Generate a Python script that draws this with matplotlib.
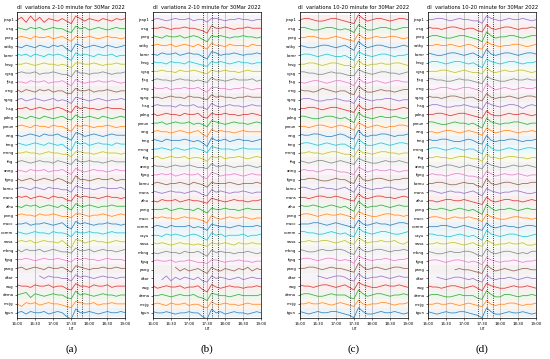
import numpy as np
import matplotlib.pyplot as plt

# sample times, minutes after 16:00 UT
minutes = [0, 7.5, 15, 22.5, 30, 37.5, 45, 52.5, 60, 67.5, 75, 82.5, 90,
           97.5, 105, 112.5, 120, 127.5, 135, 142.5, 150, 157.5, 165, 172.5, 180]

stations_a = ['jeap1', 'crsg', 'pnrg', 'satky', 'bsmr', 'hrsg', 'cgsg', 'fjsg', 'crng',
              'sgng', 'lnsg', 'pdng', 'pmun', 'wng', 'trng', 'mnng', 'fhg', 'anng',
              'fgng', 'bsmu', 'mans', 'zihu', 'pnng', 'macc', 'comm', 'swsa', 'mbng',
              'fgsg', 'pang', 'dkar', 'wsg', 'dema', 'mcjg', 'tgun']
stations_b = stations_a[:25] + ['cayu'] + stations_a[25:]

# event markers (minutes after 16:00)
event_min = [83, 99, 108]

N = None
# dI 2-10 minute, panel (a)
di_a = [
    [0, 2, -2, 3, -1, 2, -2, 1, 0, -1, 1, -1, -3, 3, 1, -1, 1, 0, -1, 1, 0, -1, 1, 0, 1],
    [1, 0, -1, 1, 0, 1, -1, 0, 1, 0, 0, -2, -3, 2, 0, 1, -1, 0, 1, 0, -1, 0, 1, 0, 0],
    [0, 1, 0, -1, 1, 0, 0, 1, -1, 0, 1, -1, -3, 1, 0, 0, 1, 0, -1, 0, 1, 0, 0, -1, 0],
    [0, -1, 1, 0, -1, 1, 0, -1, 1, 0, 1, -2, -4, 2, 1, -1, 0, 1, 0, -1, 1, 0, -1, 0, 1],
    [1, 0, 1, -1, 1, 0, -1, 1, 0, 1, 0, -2, -4, 2, 0, 1, 0, -1, 1, 0, 0, 1, -1, 0, 0],
    [0, 0, 1, 0, -1, 0, 1, 0, 0, -1, 0, -1, -3, 1, 1, 0, 0, 1, 0, -1, 0, 0, 1, 0, 0],
    [0, 1, 0, 0, 1, -1, 0, 0, 1, 0, -1, -1, -3, 2, 0, 0, -1, 0, 0, 1, 0, -1, 0, 0, 1],
    [0, 0, -1, 1, 0, 0, 1, -1, 0, 0, 1, -1, -3, 2, 0, -1, 0, 0, 1, 0, 0, 1, 0, -1, 0],
    [1, -1, 1, 0, -1, 1, 0, 1, -1, 0, 0, -2, -2, 2, 0, 0, 1, -1, 0, 0, 1, 0, -1, 0, 0],
    [0, 1, -1, 0, 1, 0, -1, 0, 1, -1, 0, -1, -3, 2, 1, 0, -1, 0, 1, 0, -1, 0, 0, 1, 0],
    [0, 0, 1, -1, 0, 1, 0, -1, 0, 1, 0, -2, -3, 2, 0, 1, 0, 0, -1, 0, 1, 0, 0, 0, -1],
    [1, 0, -1, 1, 0, -1, 1, 0, -1, 0, 1, -1, -2, 2, 0, 0, 1, 0, -1, 1, 0, -1, 0, 1, 0],
    [0, 1, 0, -1, 1, 0, 0, -1, 1, 0, 0, -2, -4, 1, 0, 1, 0, -1, 0, 0, 1, 0, -1, 0, 0],
    [0, -1, 0, 1, 0, -1, 1, 0, 0, 1, -1, -2, -4, 2, 1, -1, 0, 1, 0, -1, 0, 1, 0, 0, 0],
    [1, 0, -1, 0, 1, 0, -1, 1, 0, -1, 0, -3, -5, 2, 0, 1, -1, 0, 1, 0, 0, -1, 1, 0, 0],
    [0, 0, 1, 0, 0, -1, 0, 1, 0, 0, -1, -1, -3, 1, 1, 0, 0, -1, 0, 1, 0, 0, 0, -1, 0],
    [0, 1, 0, -1, 0, 1, 0, 0, -1, 1, 0, -1, -2, 2, 0, 0, 1, 0, 0, -1, 0, 1, 0, 0, 0],
    [0, 0, -1, 1, 0, 0, 1, -1, 0, 0, 1, -1, -3, 2, 0, -1, 0, 1, 0, 0, -1, 0, 1, 0, 0],
    [1, -1, 0, 1, -1, 0, 1, 0, -1, 1, 0, -2, -3, 3, 0, 0, -1, 0, 1, 0, 0, 1, -1, 0, 0],
    [0, 1, 0, -1, 1, 0, -1, 1, 0, 0, -1, -1, -3, 2, 1, 0, 0, -1, 0, 1, 0, 0, 0, 1, -1],
    [1, 0, 1, -1, 0, 1, 0, -1, 1, 0, 0, -2, -3, 2, 0, 1, 0, 0, -1, 0, 1, 0, 0, -1, 0],
    [0, -1, 1, 0, 1, -1, 0, 1, 0, -1, 1, -1, -3, 2, 0, 0, 1, 0, -1, 0, 0, 1, 0, 0, 0],
    [0, 1, 0, 0, -1, 1, 0, 0, 1, 0, -1, -1, -2, 1, 1, 0, -1, 0, 0, 1, 0, -1, 0, 1, 0],
    [0, 0, 1, -1, 0, 0, 1, 0, -1, 0, 1, -2, -4, 2, 0, 1, 0, -1, 0, 0, 1, 0, 0, -1, 0],
    [1, 0, -1, 0, 1, 0, 0, -1, 1, 0, 0, -1, -3, 1, 0, 0, 1, 0, 0, -1, 0, 1, 0, 0, 0],
    [0, 1, 0, 1, -1, 0, 1, 0, 0, -1, 1, -2, -5, 2, 1, -1, 0, 1, 0, 0, -1, 0, 1, 0, 0],
    [1, -1, 1, 0, 0, 1, -1, 0, 1, 0, -1, -1, -2, 2, 0, 0, 1, -1, 0, 1, 0, 0, -1, 0, 1],
    [0, 0, 1, 0, -1, 0, 1, 0, 0, 1, 0, -1, -2, 1, 0, 1, 0, 0, -1, 0, 1, 0, 0, 0, -1],
    [0, 1, -1, 0, 1, 0, -1, 1, 0, 0, 1, -1, -3, 2, 1, 0, -1, 0, 0, 1, 0, 0, 1, 0, 0],
    [N, N, N, N, N, 1, -1, 1, 0, 0, -1, -1, -3, 2, 0, 1, 0, -1, 0, 1, 0, 0, -1, 0, 0],
    [1, 0, 0, -1, 1, 0, 0, 1, -1, 0, 0, -2, -3, 2, 0, 0, -1, 1, 0, 0, 1, -1, 0, 0, 0],
    [0, 1, 2, -2, 1, 0, -1, 0, 1, 0, 0, -2, -3, 3, 0, 1, 0, -1, 0, 1, 0, 0, -1, 0, 0],
    [0, -2, 1, 0, 1, -1, 0, 1, 0, 0, -1, -2, -3, 2, 1, 0, 0, 1, -1, 0, 0, 1, 0, 0, 0],
    [0, 1, -1, 1, 0, 0, 1, -1, 0, 1, 0, -3, -5, 3, 0, 0, 1, 0, -1, 0, 1, 0, 0, 1, 0],
]

# dI 2-10 minute, panel (b)
di_b = [
    [0, 1, 0, -1, 0, 1, 0, 0, 1, -1, 0, 0, -2, 1, 1, 0, -1, 0, 0, 1, 0, 0, -1, 0, 0],
    [0, 0, 1, 0, -1, 0, 0, 1, 0, 0, -1, -2, -4, 2, 0, 0, 1, 0, -1, 0, 0, 1, 0, 0, 0],
    [1, 0, -1, 1, 0, 0, 1, -1, 0, 1, 0, -2, -4, 1, 0, 1, 0, -1, 0, 0, 1, 0, 0, -1, 0],
    [0, 1, 0, 0, 1, -1, 0, 1, 0, -1, 1, -1, -3, 2, 0, 0, -1, 1, 0, 0, 0, -1, 1, 0, 0],
    [0, -1, 1, 0, 0, 1, -1, 0, 1, 0, 0, -2, -4, 2, 1, -1, 0, 0, 1, 0, -1, 0, 0, 1, 0],
    [1, 0, 0, -1, 1, 0, 0, -1, 1, 0, -1, -2, -3, 1, 0, 1, 0, -1, 0, 1, 0, 0, -1, 0, 0],
    [0, 0, 1, 0, 0, -1, 1, 0, 0, 1, 0, -1, -2, 1, 0, 0, 1, 0, 0, -1, 0, 1, 0, 0, 0],
    [0, 1, 0, 0, -1, 0, 1, 0, 0, -1, 0, -1, -2, 2, 0, 0, -1, 0, 1, 0, 0, 0, 1, -1, 0],
    [1, 0, 0, 1, -1, 0, 0, 1, 0, 0, 1, -1, -3, 1, 1, 0, 0, -1, 0, 0, 1, 0, -1, 0, 0],
    [0, 0, -1, 0, 1, 0, 0, -1, 1, 0, 0, -1, -2, 2, 0, 1, 0, 0, -1, 0, 0, 1, 0, 0, 0],
    [0, 1, 0, 0, 0, -1, 1, 0, 0, 1, -1, -1, -3, 2, 0, -1, 0, 1, 0, 0, -1, 0, 1, 0, 0],
    [1, -1, 0, 1, 0, 0, -1, 1, 0, 0, 1, -2, -3, 1, 0, 0, 1, 0, 0, -1, 0, 0, 1, 0, -1],
    [0, 0, 1, -1, 0, 1, 0, 0, 1, -1, 0, -1, -3, 2, 1, 0, -1, 0, 1, 0, 0, -1, 0, 1, 0],
    [0, 1, 0, 0, -1, 0, 1, 0, -1, 0, 1, -2, -4, 2, 0, 1, 0, 0, -1, 0, 1, 0, 0, 0, 0],
    [1, 0, -1, 1, 0, 0, 0, 1, 0, -1, 0, -2, -5, 2, 0, 0, 1, -1, 0, 1, 0, 0, -1, 0, 1],
    [0, 0, 1, 0, -1, 1, 0, -1, 0, 1, 0, -1, -3, 2, 1, 0, 0, 0, -1, 0, 1, 0, 0, 0, 0],
    [0, 1, -1, 0, 1, 0, 0, 1, -1, 0, 0, -1, -3, 1, 0, 1, -1, 0, 0, 1, 0, -1, 0, 1, 0],
    [1, 0, 0, -1, 0, 1, 0, 0, 1, 0, -1, -1, -2, 2, 0, 0, 1, 0, -1, 0, 0, 1, 0, -1, 0],
    [0, 0, 1, 0, 1, -1, 0, 1, 0, 0, 1, -2, -3, 2, 1, -1, 0, 0, 1, 0, -1, 0, 1, 0, 0],
    [0, 1, 0, -1, 0, 0, 1, 0, -1, 1, 0, -1, -3, 1, 0, 0, 0, 1, 0, -1, 0, 0, 0, 1, 0],
    [1, 0, -1, 0, 1, 0, 0, -1, 0, 1, 0, -2, -3, 2, 0, 1, 0, -1, 0, 0, 1, 0, -1, 0, 0],
    [0, -1, 1, 0, 0, 1, -1, 0, 1, 0, 0, -1, -2, 2, 1, 0, -1, 0, 1, 0, 0, -1, 0, 0, 1],
    [0, 0, 0, 1, -1, 0, 1, 0, 0, -1, 1, -1, -3, 1, 0, 0, 1, 0, 0, -1, 0, 1, 0, 0, 0],
    [1, 0, 1, 0, 0, -1, 0, 1, 0, 0, -1, -2, -4, 2, 0, -1, 0, 1, 0, 0, 1, 0, -1, 0, 0],
    [0, 1, 0, -1, 1, 0, 0, 0, 1, -1, 0, -1, -3, 2, 1, 0, 0, -1, 0, 1, 0, 0, 0, 1, 0],
    [0, 0, -1, 1, 0, 1, 0, -1, 0, 1, 0, -2, -4, 2, 0, 1, -1, 0, 0, 0, 1, -1, 0, 0, 1],
    [1, 0, 1, 0, -1, 0, 1, 0, 0, -1, 0, -1, -2, 1, 0, 0, 1, 0, -1, 1, 0, 0, 1, 0, 0],
    [0, -1, 0, 1, 0, 0, -1, 1, 0, 0, 1, -1, -3, 2, 0, 1, 0, 0, -1, 0, 0, 1, 0, -1, 0],
    [0, 1, 0, 0, 1, -1, 0, 0, 1, 0, -1, -1, -2, 1, 1, 0, -1, 0, 0, 1, 0, 0, -1, 0, 0],
    [N, N, N, N, N, 2, -1, 1, -1, 0, 1, -1, -3, 2, 0, -1, 1, 0, -1, 1, 0, 2, -1, 1, 0],
    [N, N, -1, 2, -2, 1, -1, 1, 0, -1, 1, -2, -3, 2, 0, 1, 0, -1, 0, 1, -1, 0, 1, 0, 0],
    [1, -1, 0, 1, 0, 0, 1, -1, 0, 0, 1, -2, -4, 2, 0, -1, 0, 1, 0, 0, -1, 0, 0, 1, 0],
    [0, 0, 1, 0, -1, 0, 1, 0, 0, 1, -1, -2, -4, 2, 1, 0, 0, -1, 0, 1, 0, 0, 0, 0, 1],
    [0, 1, 0, -1, 1, 0, 0, 1, -1, 0, 0, -2, -3, 2, 0, 0, 1, 0, 0, -1, 0, 1, 0, 0, 0],
    [1, 0, 0, 1, 0, -1, 0, 0, 1, 0, 0, -3, -5, 3, 0, 1, -1, 0, 1, 0, 0, -1, 0, 1, 0],
]

# dI 10-20 minute, panel (c)
di_c = [
    [0, 1, 1, 0, -1, -1, 0, 1, 1, 0, -1, -2, -3, 4, 1, -1, 0, 1, 1, 0, -1, 0, 1, 1, 0],
    [1, 1, 0, -1, -1, 0, 1, 1, 0, -1, 0, -1, -3, 3, 1, -1, -1, 0, 1, 1, 0, -1, 0, 1, 1],
    [0, 0, 1, 1, 0, -1, -1, 0, 1, 0, -1, -2, -3, 3, 0, -1, 0, 1, 0, 0, 1, 1, 0, -1, 0],
    [1, 0, -1, -1, 0, 1, 1, 0, -1, 0, 1, -1, -3, 4, 1, -1, 0, 1, 1, 0, -1, -1, 0, 1, 0],
    [0, 1, 1, 0, -1, 0, 1, 0, -1, -1, 0, -2, -4, 3, 1, 0, -1, 0, 1, 1, 0, -1, 0, 0, 1],
    [0, 0, 1, 1, 0, -1, 0, 1, 1, 0, -1, -1, -3, 3, 0, -1, 0, 0, 1, 0, 0, 1, 1, 0, -1],
    [1, 1, 0, 0, -1, -1, 0, 1, 0, 0, -1, -2, -2, 3, 1, 0, -1, 0, 1, 1, 0, 0, -1, 0, 1],
    [0, -1, 0, 1, 1, 0, -1, 0, 1, 1, 0, -1, -3, 3, 0, -1, 0, 1, 0, -1, 0, 1, 1, 0, 0],
    [1, 0, 0, -1, 0, 2, 1, 0, -1, 0, 0, -2, -3, 4, 1, -1, -1, 0, 1, 0, 0, -1, 0, 1, 1],
    [0, 1, 1, 0, -1, -1, 0, 0, 1, 0, -1, -1, -3, 3, 1, 0, -1, 0, 0, 1, 1, 0, -1, 0, 0],
    [0, 0, 1, 1, 0, -1, 0, 1, 1, 0, -1, -2, -3, 3, 0, -1, 0, 1, 1, 0, -1, -1, 0, 1, 0],
    [1, 1, 0, -1, -1, 0, 1, 1, 0, -1, 0, -2, -4, 4, 1, 0, -1, 0, 1, 0, 0, 1, 0, -1, 0],
    [0, 0, -1, 0, 1, 1, 0, -1, 0, 1, 0, -1, -3, 3, 1, -1, 0, 1, 0, -1, 0, 0, 1, 1, 0],
    [1, 0, 0, 1, 1, 0, -1, -1, 0, 1, 0, -2, -3, 4, 0, -1, 0, 0, 1, 1, 0, -1, 0, 0, 1],
    [0, 1, 1, 0, -1, 0, 1, 0, -1, 0, 0, -2, -4, 4, 1, -1, -1, 0, 1, 0, -1, 0, 1, 1, 0],
    [0, 0, 1, 0, 0, -1, 0, 1, 1, 0, -1, -1, -3, 3, 0, 0, -1, 0, 1, 1, 0, 0, -1, 0, 0],
    [1, 0, -1, 0, 1, 1, 0, -1, 0, 1, 0, -1, -2, 3, 1, 0, -1, -1, 0, 1, 0, 0, 1, 0, -1],
    [0, 1, 0, 0, -1, 0, 1, 1, 0, -1, -1, -2, -3, 3, 1, -1, 0, 1, 0, 0, 1, 0, -1, 0, 0],
    [0, 0, 1, 1, 0, -1, -1, 0, 1, 0, 0, -2, -3, 4, 0, -1, 0, 1, 1, 0, -1, 0, 0, 1, 1],
    [1, 1, 0, -1, 0, 1, 0, 0, -1, 0, 1, -1, -3, 3, 1, 0, -1, 0, 0, 1, 1, 0, -1, -1, 0],
    [0, 0, -1, 0, 1, 1, 0, 0, 1, 0, -1, -2, -3, 3, 0, -1, 0, 1, 1, 0, 0, -1, 0, 1, 0],
    [1, 0, 0, 1, 0, -1, 0, 1, 0, -1, 0, -2, -4, 4, 1, -1, 0, 0, 1, 0, -1, 0, 1, 0, 0],
    [0, 1, 1, 0, -1, 0, 1, 0, 0, 1, 0, -1, -3, 3, 1, 0, -1, -1, 0, 1, 1, 0, 0, -1, 0],
    [0, 0, 0, 1, 1, 0, -1, 0, 1, 0, -1, -2, -3, 3, 0, -1, 0, 1, 0, 0, -1, 0, 1, 1, 0],
    [1, 1, 0, 0, -1, -1, 0, 1, 0, -1, 0, -2, -3, 4, 1, 0, -1, 0, 1, 1, 0, -1, -1, 0, 1],
    [0, 0, 1, 0, 0, 1, 1, 0, -1, 0, 1, -1, -2, 3, 1, -1, 0, 0, 1, 0, 0, 1, -1, -2, 0],
    [1, 0, -1, -1, 0, 1, 0, 0, 1, 1, 0, -2, -3, 3, 0, -1, 0, 1, 1, 0, -1, 0, 0, 1, 0],
    [0, 1, 1, 0, -1, 0, 1, 1, 0, -1, 0, -1, -3, 3, 1, 0, -1, 0, 0, 1, 0, -1, 0, 0, 1],
    [0, 0, 1, 1, 0, -1, 0, 1, 0, 0, -1, -2, -3, 4, 1, -1, 0, 1, 0, -1, 0, 1, 1, 0, 0],
    [N, N, N, N, 1, 0, -1, 0, 1, 1, 0, -2, -3, 3, 0, -1, 0, 0, 1, 0, -1, 0, 1, 0, 0],
    [1, 0, 0, -1, 0, 1, 1, 0, -1, 0, 1, -1, -3, 3, 1, 0, -1, -1, 0, 1, 0, 0, 1, 0, -1],
    [0, 1, 1, 0, -1, -1, 0, 1, 0, 0, 0, -2, -3, 4, 1, -1, 0, 1, 1, 0, -1, 0, 0, 1, 0],
    [0, 0, 1, 0, 0, 1, 0, -1, 0, 1, 0, -1, -2, 3, 0, -1, 0, 0, 1, 1, 0, -1, 0, 0, 1],
    [1, 0, -1, 0, 1, 0, 0, 1, 1, 0, -1, -2, -4, 4, 1, -1, -1, 0, 1, 0, 0, 1, 0, -1, 0],
]

# dI 10-20 minute, panel (d)
di_d = [
    [0, 0, 1, 1, 0, -1, 0, 1, 0, 0, -1, -1, -3, 3, 1, 0, -1, 0, 1, 0, 0, 1, 0, -1, 0],
    [1, 0, 0, -1, 0, 1, 1, 0, -1, 0, 0, -2, -3, 3, 0, -1, 0, 1, 1, 0, -1, 0, 0, 1, 0],
    [0, 1, 1, 0, -1, -1, 0, 1, 1, 0, -1, -2, -4, 4, 1, -1, 0, 0, 1, 1, 0, -1, 0, 1, 1],
    [0, 0, 1, 0, 0, 1, 0, -1, 0, 1, 0, -2, -3, 3, 1, 0, -1, 0, 0, 1, 1, 0, -1, 0, 1],
    [1, 0, -1, -1, 0, 1, 1, 0, -1, 0, 1, -1, -3, 4, 0, -1, 0, 1, 1, 0, -1, 0, 1, 1, 0],
    [0, 1, 1, 0, -1, 0, 1, 1, 0, -1, 0, -2, -4, 3, 1, 0, -1, 0, 1, 1, 0, -1, 0, 0, 1],
    [0, 0, 0, 1, 1, 0, -1, 0, 1, 0, -1, -1, -2, 3, 0, -1, 0, 1, 0, 0, 1, 1, 0, -1, 0],
    [1, 1, 0, 0, -1, -1, 0, 1, 0, 0, -1, -2, -3, 3, 1, 0, -1, -1, 0, 1, 0, 0, 1, 0, 0],
    [0, -1, 0, 1, 1, 0, -1, 0, 1, 1, 0, -1, -3, 4, 1, -1, 0, 1, 0, -1, 0, 1, 0, 0, 1],
    [1, 0, 0, -1, 0, 1, 1, 0, -1, 0, 0, -2, -3, 3, 0, -1, 0, 0, 1, 0, -1, 0, 1, 1, 0],
    [0, 1, 1, 0, -1, -1, 0, 0, 1, 0, -1, -1, -3, 3, 1, 0, -1, 0, 1, 1, 0, -2, 0, 1, 0],
    [0, 0, 1, 1, 0, -1, 0, 1, 1, 0, -1, -2, -3, 3, 0, -1, -1, 0, 1, 0, 0, 1, 0, -1, 0],
    [1, 1, 0, -1, -1, 0, 1, 0, 0, -1, 0, -2, -4, 4, 1, 0, -1, 0, 0, 1, 1, 0, -1, 0, 0],
    [0, 0, -1, 0, 1, 1, 0, -1, 0, 1, 0, -1, -3, 3, 1, -1, 0, 1, 1, 0, -1, 0, 0, 1, 0],
    [1, 0, 0, 1, 1, 0, -1, -1, 0, 1, 0, -2, -3, 4, 0, -1, 0, 0, 1, 1, 0, -1, 0, 0, 1],
    [0, 1, 1, 0, -1, 0, 1, 0, -1, 0, 0, -2, -4, 4, 1, -1, -1, 0, 1, 0, -1, 0, 1, 1, 0],
    [0, 0, 1, 0, 0, -1, 0, 1, 1, 0, -1, -1, -3, 3, 0, 0, -1, 0, 1, 1, 0, 0, -1, 0, 0],
    [1, 0, -1, 0, 1, 1, 0, -1, 0, 1, 0, -1, -2, 3, 1, 0, -1, -1, 0, 1, 0, 0, 1, 0, -1],
    [0, 1, 0, 0, -1, 0, 1, 1, 0, -1, -1, -2, -3, 3, 1, -1, 0, 1, 0, 0, 1, 0, -1, 0, 0],
    [0, 0, 1, 1, 0, -1, -1, 0, 1, 0, 0, -2, -3, 4, 0, -1, 0, 1, 1, 0, -1, 0, 0, 1, 1],
    [1, 1, 0, -1, 0, 1, 0, 0, -1, 0, 1, -1, -3, 3, 1, 0, -1, 0, 0, 1, 1, 0, -1, -1, 0],
    [0, 0, -1, 0, 1, 1, 0, 0, 1, 0, -1, -2, -3, 3, 0, -1, 0, 1, 1, 0, 0, -1, 0, 1, 0],
    [1, 0, 0, 1, 0, -1, 0, 1, 0, -1, 0, -2, -4, 4, 1, -1, 0, 0, 1, 0, -1, 0, 1, 0, 0],
    [0, 1, 1, 0, -1, 0, 1, 0, 0, 1, 0, -1, -3, 3, 1, 0, -1, -1, 0, 1, 1, 0, 0, -1, 0],
    [0, 0, 0, 1, 1, 0, -1, 0, 1, 0, -1, -2, -3, 3, 0, -1, 0, 1, 0, 0, -1, 0, 1, 1, 0],
    [1, 1, 0, 0, -1, -1, 0, 1, 0, -1, 0, -2, -4, 4, 1, 0, -1, 0, 1, 1, 0, -1, -1, 0, 1],
    [0, 0, 1, 0, 0, 1, 1, 0, -1, 0, 1, -1, -2, 3, 1, -1, 0, 0, 1, 0, 0, 1, -1, -1, 0],
    [1, 0, -1, -1, 0, 1, 0, 0, 1, 1, 0, -2, -3, 3, 0, -1, 0, 1, 1, 0, -1, 0, -1, 1, 1],
    [0, 1, 1, 0, -1, 0, 1, 1, 0, -1, 0, -1, -3, 3, 1, 0, -1, 0, 0, 1, 0, -1, 0, 0, 1],
    [N, N, N, N, N, N, 0, 1, 0, 0, -1, -2, -3, 4, 1, -1, 0, 1, 0, -1, 0, 1, 1, 0, 0],
    [N, N, 1, 0, -1, 0, 1, 1, 0, -1, 0, -2, -3, 3, 0, -1, 0, 0, 1, 0, -1, 0, 1, 0, 0],
    [1, 0, 0, -1, 0, 1, 1, 0, -1, 0, 1, -1, -3, 3, 1, 0, -1, -1, 0, 1, 0, 0, 1, 0, -1],
    [0, 1, 1, 0, -1, -1, 0, 1, 0, 0, 0, -2, -3, 4, 1, -1, -1, 1, 1, 0, -1, 0, 0, 1, 0],
    [0, 0, 1, 0, 0, 1, 0, -1, 0, 1, 0, -1, -2, 3, 0, -1, 0, 0, 1, 1, 0, -1, 0, 0, 1],
    [1, 0, -1, 0, 1, 0, 0, 1, 1, 0, -1, -2, -4, 4, 1, -1, -1, 0, 1, 0, 0, 1, 0, -1, 0],
]

colors = plt.rcParams['axes.prop_cycle'].by_key()['color']
gap = 7.0
hours = 16 + np.array(minutes) / 60.0


def draw(ax, rows, names, title, letter):
    n = len(names)
    bases = []
    for k in range(n):
        base = (n - 1 - k) * gap
        c = colors[(n - 1 - k) % len(colors)]
        ax.axhspan(base - gap / 2, base + gap / 2, color=c, alpha=0.08, lw=0)
        ax.plot(hours, base + np.array(rows[k], dtype=float), color=c, lw=0.6,
                alpha=0.85, solid_joinstyle='round')
        bases.append(base)
    for m in event_min:
        ax.axvline(16 + m / 60.0, color='k', ls=':', lw=0.6)
    ax.set_xlim(16, 19)
    ax.set_ylim(-0.6 * gap, (n - 0.1) * gap)
    ax.set_xticks([16, 16.5, 17, 17.5, 18, 18.5, 19])
    ax.set_xticklabels(['16:00', '16:30', '17:00', '17:30', '18:00', '18:30', '19:00'])
    ax.set_yticks(bases)
    ax.set_yticklabels(names)
    ax.grid(axis='x', color='#b0b0b0', lw=0.5)
    ax.tick_params(labelsize=2.8, length=1.5, width=0.4, pad=1)
    for s in ax.spines.values():
        s.set_linewidth(0.5)
    ax.set_title(title, fontsize=3.7, pad=2)
    ax.set_xlabel('UT', fontsize=3, labelpad=1)
    ax.text(0.5, -0.085, letter, transform=ax.transAxes, ha='center', va='top',
            fontsize=8, family='Liberation Serif')


fig = plt.figure(figsize=(5.5, 3.59), dpi=100)
lefts = [0.031, 0.278, 0.545, 0.778]
titles = ['dI  variations 2-10 minute for 30Mar 2022',
          'dI  variations 2-10 minute for 30Mar 2022',
          'dI  variations 10-20 minute for 30Mar 2022',
          'dI  variations 10-20 minute for 30Mar 2022']
panels = [(di_a, stations_a), (di_b, stations_b), (di_c, stations_a), (di_d, stations_b)]
letters = ['(a)', '(b)', '(c)', '(d)']

for left, title, (rows, names), letter in zip(lefts, titles, panels, letters):
    ax = fig.add_axes([left, 0.114, 0.197, 0.853])
    draw(ax, rows, names, title, letter)

fig.savefig('out.png', dpi=100)
